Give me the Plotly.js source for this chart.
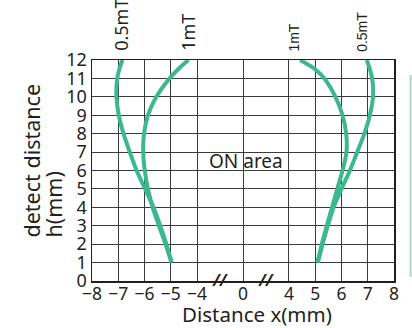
<!DOCTYPE html>
<html>
<head>
<meta charset="utf-8">
<script src="https://cdn.plot.ly/plotly-3.0.1.min.js"></script>
<style>html,body{margin:0;padding:0;background:#fff;}#chart{width:412px;height:328px;}</style>
</head>
<body>
<div id="chart"></div>
<script>
// Heights (detect distance, mm)
const heights = [1, 2, 3, 4, 5, 6, 7, 8, 9, 10, 11, 11.5, 12];
// Curve x positions (mm)
const left05mT  = [-4.97, -5.17, -5.4, -5.66, -5.98, -6.3, -6.56, -6.8, -6.98, -7.07, -7.04, -6.96, -6.84];
const left1mT   = [-4.97, -5.2, -5.45, -5.69, -5.87, -5.99, -6.05, -6.02, -5.87, -5.55, -5.05, -4.72, -4.33];
const right1mT  = [5.08, 5.25, 5.44, 5.64, 5.84, 6.04, 6.19, 6.18, 6.04, 5.77, 5.35, 5.0, 4.42];
const right05mT = [5.1, 5.28, 5.48, 5.7, 6.0, 6.32, 6.6, 6.87, 7.08, 7.2, 7.17, 7.08, 6.96];
// Axis ticks (broken axis)
const xTicks = [-8, -7, -6, -5, -4, 0, 4, 5, 6, 7, 8];
const xTickText = ["\u22128", "\u22127", "\u22126", "\u22125", "\u22124", "0", "4", "5", "6", "7", "8"];
const yTicks = [0, 1, 2, 3, 4, 5, 6, 7, 8, 9, 10, 11, 12];
const breaks = [-2, 2];

// broken-axis scale: [-8,-4] and [4,8] at unit scale, the gaps compressed
function pos(v) {
  if (v <= -4) return v + 8;
  if (v <= 0) return 4 + (v + 4) * 1.75 / 4;
  if (v <= 4) return 5.75 + v * 1.75 / 4;
  return 7.5 + (v - 4);
}

const green = '#3cb88d';
const ink = '#231f20';
const font = 'Noto Sans, Open Sans, sans-serif';

function curve(xs) {
  return {
    x: xs.map(pos), y: heights, type: 'scatter', mode: 'lines',
    line: {color: green, width: 4, shape: 'spline', smoothing: 0.9},
    hoverinfo: 'skip', showlegend: false
  };
}

const data = [curve(left05mT), curve(left1mT), curve(right1mT), curve(right05mT)];

const narrow = 'Liberation Sans Narrow, Arial Narrow, Liberation Sans, sans-serif';
const annotations = [
  {x: pos(-6.9), y: 1.032, xref: 'x', yref: 'paper', text: '0.5mT', textangle: -90, showarrow: false,
   xanchor: 'center', yanchor: 'bottom', font: {family: font, size: 18, color: ink}},
  {x: pos(-4.33), y: 1.032, xref: 'x', yref: 'paper', text: '1mT', textangle: -90, showarrow: false,
   xanchor: 'center', yanchor: 'bottom', font: {family: font, size: 18, color: ink}},
  {x: pos(4.2), y: 1.03, xref: 'x', yref: 'paper', text: '1mT', textangle: -90, showarrow: false,
   xanchor: 'center', yanchor: 'bottom', font: {family: narrow, size: 14, color: ink}},
  {x: pos(6.8), y: 1.03, xref: 'x', yref: 'paper', text: '0.5mT', textangle: -90, showarrow: false,
   xanchor: 'center', yanchor: 'bottom', font: {family: narrow, size: 14, color: ink}},
  {x: pos(0.3), y: 6.5, xref: 'x', yref: 'y', text: 'ON area', showarrow: false,
   xanchor: 'center', yanchor: 'middle', font: {family: font, size: 19, color: ink}},
  {x: 0.5, y: -0.148, xref: 'paper', yref: 'paper', text: 'Distance x(mm)', showarrow: false,
   xanchor: 'center', yanchor: 'middle', xshift: 14, font: {family: font, size: 20.5, color: ink}},
  {x: -0.2, y: 0.186, xref: 'paper', yref: 'paper', text: 'detect distance', textangle: -90, showarrow: false,
   xanchor: 'center', yanchor: 'bottom', font: {family: font, size: 21.5, color: ink}},
  {x: -0.127, y: 0.186, xref: 'paper', yref: 'paper', text: 'h(mm)', textangle: -90, showarrow: false,
   xanchor: 'center', yanchor: 'bottom', font: {family: font, size: 21.5, color: ink}}
];
breaks.forEach(b => annotations.push({
  x: pos(b), y: 0, xref: 'x', yref: 'y', text: '<b><i>//</i></b>', showarrow: false,
  xanchor: 'center', yanchor: 'middle', yshift: 1, font: {family: font, size: 16, color: ink}
}));

const layout = {
  width: 412, height: 328,
  margin: {l: 92, r: 18, t: 60, b: 47, pad: 0},
  paper_bgcolor: '#fff', plot_bgcolor: '#fff',
  showlegend: false,
  xaxis: {
    range: [pos(-8), pos(8)], tickvals: xTicks.map(pos), ticktext: xTickText,
    showgrid: true, gridcolor: '#3a3a3a', gridwidth: 1, zeroline: false,
    showline: true, mirror: true, linecolor: ink, linewidth: 1.5,
    ticks: '', ticklabelstandoff: -4, tickfont: {family: font, size: 17.5, color: ink}, fixedrange: true
  },
  yaxis: {
    range: [0, 12], tickvals: yTicks, ticktext: yTicks.map(String),
    showgrid: true, gridcolor: '#3a3a3a', gridwidth: 1, zeroline: false,
    showline: true, mirror: true, linecolor: ink, linewidth: 1.5,
    ticks: '', tickfont: {family: font, size: 18, color: ink}, fixedrange: true
  },
  annotations: annotations,
  shapes: [
    {type: 'line', xref: 'paper', yref: 'paper', x0: 1.055, x1: 1.055, y0: 0.019, y1: 0.932,
     line: {color: '#a6dbc6', width: 2}}
  ]
};

Plotly.newPlot('chart', data, layout, {staticPlot: true, displayModeBar: false});
</script>
</body>
</html>
